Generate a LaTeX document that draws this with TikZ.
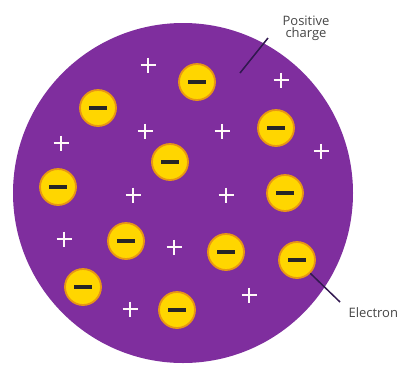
\documentclass[tikz,border=0pt]{standalone}
\usepackage{fontspec}
\setmainfont{Open Sans}
\usepackage{xcolor}
\usepackage{tikz}
\usetikzlibrary{positioning,calc}

\definecolor{atompurple}{RGB}{127,46,158}
\definecolor{elyellow}{RGB}{255,214,0}
\definecolor{elorange}{RGB}{232,150,20}
\definecolor{leadline}{RGB}{50,25,80}
\definecolor{labelgrey}{RGB}{70,70,70}

\tikzset{
  electron/.style={circle,fill=elyellow,draw=elorange,line width=1.8pt,
    minimum size=36pt,inner sep=0pt},
  pluscharge/.style={draw=white!90!pink,line width=2pt},
  leader/.style={draw=leadline,line width=1.5pt},
  lbl/.style={text=labelgrey,font=\fontsize{13}{15}\selectfont,align=center}
}

\begin{document}
\begin{tikzpicture}[x=1pt,y=-1pt]
  \useasboundingbox (0,0) rectangle (407,365);

  % the sphere of positive charge
  \node[circle,fill=atompurple,minimum size=340pt,inner sep=0pt] (atom) at (183,193) {};

  % positive charges
  \foreach \x/\y in {148/65,281/80,145/131,222/131,61/143,321/151,
                     133/195,226/195,64/239,174/247,249/295,130/309}{
    \draw[pluscharge] (\x-7.5,\y)--(\x+7.5,\y);
    \draw[pluscharge] (\x,\y-7.5)--(\x,\y+7.5);
  }

  % electrons
  \foreach \n/\x/\y in {1/197/82,2/98/108,3/276/128,4/170/162,5/58/187,6/285/193,
                        7/126/241,8/226/252,9/297/260,10/83/287,11/177/310}{
    \node[electron] (e\n) at (\x,\y) {};
    \draw[line width=3.5pt,draw=black!85] ($(e\n)+(-9,0)$)--($(e\n)+(9,0)$);
  }

  % labels
  \node[lbl] (poslbl) at (306,28) {Positive\\[-3pt]charge};
  \node[lbl,anchor=west] (ellbl) at (345,313) {Electron};

  \coordinate (posend) at (268,38);
  \coordinate (posin) at (240,73);
  \draw[leader] (posin)--(posend);

  \coordinate (elend) at (340,302);
  \draw[leader] (e9.-45)--(elend);
\end{tikzpicture}
\end{document}
